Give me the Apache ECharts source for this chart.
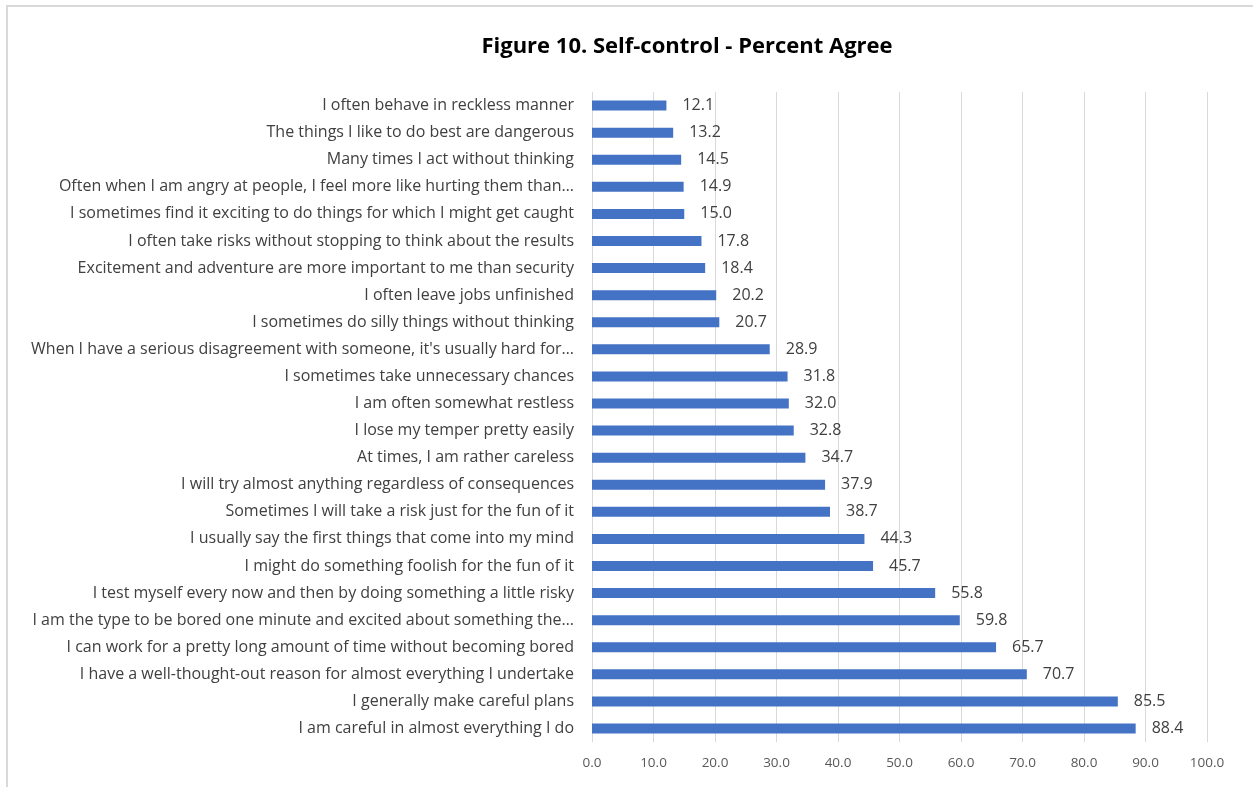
<!DOCTYPE html>
<html>
<head>
<meta charset="utf-8">
<script src="https://cdn.jsdelivr.net/npm/echarts@6/dist/echarts.min.js"></script>
<style>
  html, body { margin: 0; padding: 0; background: #fff; }
  #chart { width: 1253px; height: 787px; }
</style>
</head>
<body>
<div id="chart"></div>
<script>
// Survey items, listed top to bottom
const items = [
  "I often behave in reckless manner",
  "The things I like to do best are dangerous",
  "Many times I act without thinking",
  "Often when I am angry at people, I feel more like hurting them than…",
  "I sometimes find it exciting to do things for which I might get caught",
  "I often take risks without stopping to think about the results",
  "Excitement and adventure are more important to me than security",
  "I often leave jobs unfinished",
  "I sometimes do silly things without thinking",
  "When I have a serious disagreement with someone, it's usually hard for…",
  "I sometimes take unnecessary chances",
  "I am often somewhat restless",
  "I lose my temper pretty easily",
  "At times, I am rather careless",
  "I will try almost anything regardless of consequences",
  "Sometimes I will take a risk just for the fun of it",
  "I usually say the first things that come into my mind",
  "I might do something foolish for the fun of it",
  "I test myself every now and then by doing something a little risky",
  "I am the type to be bored one minute and excited about something the…",
  "I can work for a pretty long amount of time without becoming bored",
  "I have a well-thought-out reason for almost everything I undertake",
  "I generally make careful plans",
  "I am careful in almost everything I do"
];

// Percent agreeing with each item
const percentAgree = [
  12.1, 13.2, 14.5, 14.9, 15.0, 17.8, 18.4, 20.2, 20.7, 28.9, 31.8, 32.0,
  32.8, 34.7, 37.9, 38.7, 44.3, 45.7, 55.8, 59.8, 65.7, 70.7, 85.5, 88.4
];

const titleText = "Figure 10. Self-control - Percent Agree";

const FONT = "'Open Sans', Lato, sans-serif";

const chart = echarts.init(document.getElementById('chart'), null, { renderer: 'canvas' });

chart.setOption({
  backgroundColor: '#ffffff',
  animation: false,
  title: {
    text: titleText,
    left: 682,
    top: 31,
    textAlign: 'center',
    textStyle: { fontFamily: FONT, fontSize: 22, fontWeight: 'bold', color: '#000000' }
  },
  graphic: [{
    type: 'rect',
    shape: { x: 7, y: 6, width: 1400, height: 1000 },
    style: { fill: 'none', stroke: '#d9d9d9', lineWidth: 2 },
    silent: true,
    z: -1
  }],
  grid: { left: 592, right: 46, top: 92, bottom: 45, containLabel: false },
  xAxis: {
    type: 'value',
    min: 0,
    max: 100,
    interval: 10,
    axisLine: { show: false },
    axisTick: { show: false },
    splitLine: { show: true, lineStyle: { color: '#d9d9d9', width: 1 } },
    axisLabel: {
      margin: 14,
      fontFamily: FONT,
      fontSize: 13.5,
      color: '#595959',
      formatter: v => v.toFixed(1)
    }
  },
  yAxis: {
    type: 'category',
    data: items,
    inverse: true,
    axisLine: { show: false },
    axisTick: { show: false },
    splitLine: { show: false },
    axisLabel: {
      margin: 18,
      fontFamily: FONT,
      fontSize: 16,
      color: '#404040'
    }
  },
  series: [{
    type: 'bar',
    data: percentAgree,
    barWidth: 10,
    itemStyle: { color: '#4472c4' },
    label: {
      show: true,
      position: 'right',
      distance: 16,
      fontFamily: FONT,
      fontSize: 16,
      color: '#404040',
      formatter: p => p.value.toFixed(1)
    }
  }]
});
</script>
</body>
</html>
